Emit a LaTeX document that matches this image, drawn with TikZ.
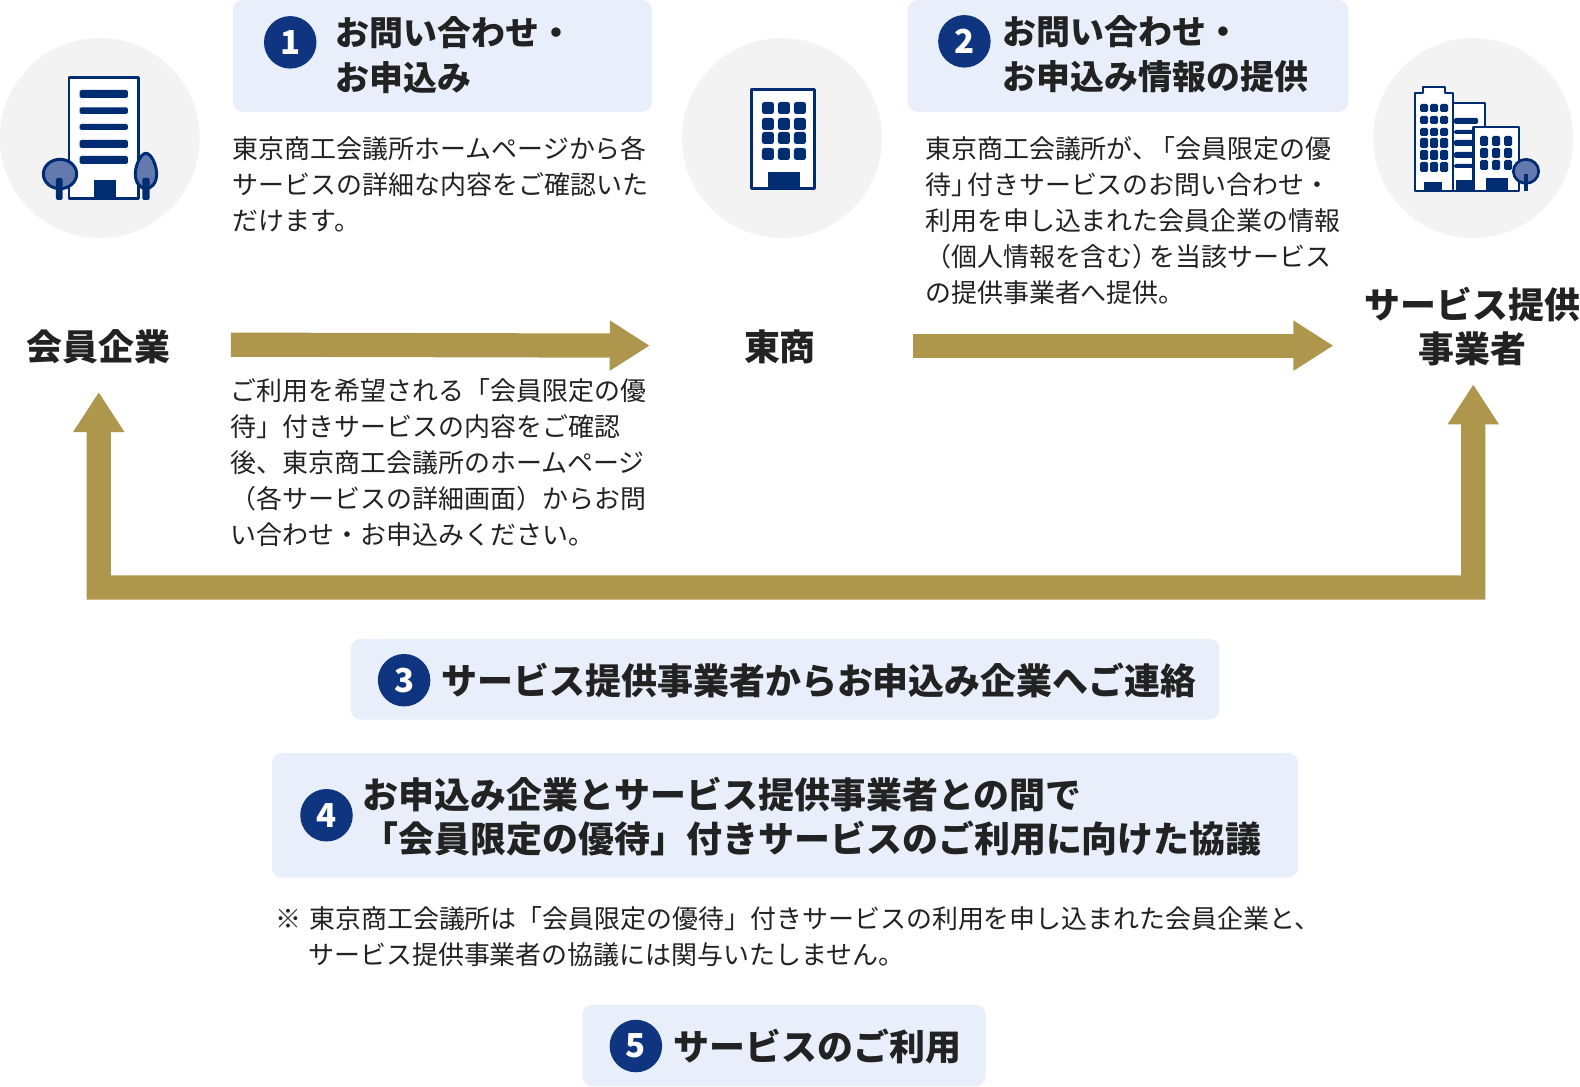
\documentclass[tikz,border=0pt]{standalone}
\usepackage{fontspec}
\usetikzlibrary{arrows.meta}
\setmainfont{Noto Sans CJK JP}
\definecolor{gold}{HTML}{AE974C}
\definecolor{navy}{HTML}{002D72}
\definecolor{leaf}{HTML}{6479AE}
\definecolor{pale}{HTML}{E9EFFA}
\definecolor{disc}{HTML}{F3F3F3}
\definecolor{ink}{HTML}{222222}
\definecolor{badgec}{HTML}{0F3480}
\tikzset{
 body/.style={anchor=north west,inner sep=0pt,align=left,text=ink,font=\fontsize{25.95}{36.1}\selectfont},
 titletext/.style={anchor=north west,inner sep=0pt,align=left,text=ink,font=\fontsize{33.9}{44.4}\selectfont\bfseries},
 bigtitle/.style={anchor=north west,inner sep=0pt,align=left,text=ink,font=\fontsize{35.95}{44.4}\selectfont\bfseries},
 actor/.style={anchor=center,inner sep=0pt,align=center,text=ink,font=\fontsize{35.9}{44.4}\selectfont\bfseries},
 panel/.style={fill=pale,rounded corners=10pt,draw=none},
 badge/.style={circle,fill=badgec,text=white,inner sep=0pt,minimum size=52.5pt,font=\fontsize{33}{33}\selectfont\bfseries},
 disk/.style={circle,fill=disc,inner sep=0pt,minimum size=200pt},
 bigarrow/.style={draw=gold,line width=24.2pt,-{Triangle[length=40pt,width=47.5pt]}},
 bothways/.style={draw=gold,line width=24.2pt,miter limit=10,{Triangle[length=40pt,width=48.5pt]}-{Triangle[length=40pt,width=48.5pt]}},
 icoline/.style={draw=navy,fill=white,line join=round},
 icofill/.style={fill=navy,rounded corners=1.5pt},
 tree/.style={draw=navy,fill=leaf},
}
\begin{document}
\begin{tikzpicture}[x=1.0077pt,y=-1.0077pt]
\useasboundingbox (0,0) rectangle (1567.9,1077.7);
\fill[white] (0,0) rectangle (1567.9,1077.7);
% discs
\node[disk] (d1) at (99,137) {};
\node[disk] (d2) at (776,137) {};
\node[disk] (d3) at (1462,137) {};
% icon 1
\begin{scope}[shift={(0,29.77)},x=0.3333pt,y=-0.3333pt]
\draw[icoline,line width=2.7pt] (207,142) rectangle (416,506);
\foreach \ya/\yb in {180/204,232/252,282/300,330/354,378/402}
 \fill[icofill] (239,\ya) rectangle (384,\yb);
\fill[navy] (282,450) rectangle (348,508);
\draw[tree,line width=3pt] (180,432) ellipse [x radius=50,y radius=44];
\fill[navy,rounded corners=2pt] (168,444) rectangle (188,510);
\draw[tree,line width=3pt] (438,370) .. controls (454,370) and (470,406) .. (470,432) .. controls (470,462) and (452,476) .. (438,476) .. controls (424,476) and (406,462) .. (406,432) .. controls (406,406) and (422,370) .. (438,370) -- cycle;
\fill[navy,rounded corners=2pt] (427,444) rectangle (449,510);
\end{scope}
% icon 2
\begin{scope}[shift={(669.8,29.77)},x=0.3333pt,y=-0.3333pt]
\draw[icoline,line width=2.7pt] (229,178) rectangle (419,476);
\foreach \cx in {261,309,357}
 \foreach \cy in {216,264,306,354}
  \fill[navy,rounded corners=2.5pt] (\cx,\cy) rectangle ++(36,36);
\fill[navy] (279,426) rectangle (375,476);
\end{scope}
% icon 3
\begin{scope}[shift={(1349.6,29.77)},x=0.3333pt,y=-0.3333pt]
\draw[icoline,line width=2pt] (188,188) -- (188,170) -- (256,170) -- (256,188) -- (279,188) -- (279,484) -- (165,484) -- (165,188) -- cycle;
\foreach \cx in {180,210,240}
 \foreach \ya/\yb in {222/246,258/282,294/318,324/354,360/390,396/426}
  \fill[icofill] (\cx,\ya) rectangle ++(24,\yb-\ya);
\fill[navy] (192,456) rectangle (246,484);
\draw[icoline,line width=2pt] (279,218) rectangle (375,484);
\foreach \ya/\yb in {264/282,300/312,330/348,366/384,402/414}
 \fill[icofill] (282,\ya) rectangle (354,\yb);
\fill[navy] (288,450) rectangle (340,484);
\draw[icoline,line width=2.3pt] (340,291) rectangle (476,484);
\foreach \cx in {360,396,432}
 \foreach \ya in {318,354,390}
  \fill[icofill] (\cx,\ya) rectangle ++(24,30);
\fill[navy] (378,444) rectangle (444,484);
\draw[tree,line width=2.7pt] (498,424) ellipse [x radius=38,y radius=36];
\fill[navy] (492,432) rectangle (504,484);
\end{scope}
% panels
\fill[panel] (231,0) rectangle (647,111);
\fill[panel] (901,0) rectangle (1338,111);
\fill[panel] (348,634) rectangle (1210,714);
\fill[panel] (270,747) rectangle (1288,871);
\fill[panel] (578,997) rectangle (978,1078);
% badges
\node[badge] (b1) at (288,42) {1};
\node[badge] (b2) at (957,41) {2};
\node[badge] (b3) at (401,675) {3};
\node[badge] (b4) at (324,809) {4};
\node[badge] (b5) at (631,1038) {5};
% titles
\node[titletext] (t1) at (333,16.5) {お問い合わせ・\\お申込み};
\node[titletext] (t2) at (995,15.5) {お問い合わせ・\\お申込み情報の提供};
\node[bigtitle] (t3) at (438,658) {サービス提供事業者からお申込み企業へご連絡};
\node[bigtitle] (t4) at (360,771) {お申込み企業とサービス提供事業者との間で\\「会員限定の優待」付きサービスのご利用に向けた協議};
\node[bigtitle] (t5) at (668,1020.5) {サービスのご利用};
% body
\node[body] (p1) at (231,135) {東京商工会議所ホームページから各\\サービスの詳細な内容をご確認いた\\だけます。};
\node[body] (p2) at (229,375.5) {ご利用を希望される「会員限定の優\\待」付きサービスの内容をご確認\\後、東京商工会議所のホームページ\\（各サービスの詳細画面）からお問\\い合わせ・お申込みください。};
\node[body] (p3) at (918,135) {東京商工会議所が、\hspace{-9pt}「会員限定の優\\待」\hspace{-10pt}付きサービスのお問い合わせ・\\利用を申し込まれた会員企業の情報\\（個人情報を含む）\hspace{-9pt}を当該サービス\\の提供事業者へ提供。};
\node[body] (p4) at (273,899) {※\hspace{8pt}東京商工会議所は「会員限定の優待」付きサービスの利用を申し込まれた会員企業と、\\\hspace*{33pt}サービス提供事業者の協議には関与いたしません。};
% actors
\node[actor] (a) at (97.5,344) {会員企業};
\node[actor] (b) at (774,344.5) {東商};
\node[actor] (c) at (1461,324) {サービス提供\\事業者};
% connectors
\draw[bigarrow] ([xshift=60.7pt,yshift=2pt]a.east) -- ([xshift=-94.1pt,yshift=1.5pt]b.west);
\draw[bigarrow] ([xshift=96.7pt,yshift=1.5pt]b.east) -- ([xshift=-31pt,yshift=1.5pt]c.west |- b.east);
\draw[bothways] ([xshift=0.5pt,yshift=-28pt]a.south) -- (98,583) -- (1462,583) -- ([xshift=1pt,yshift=-18pt]c.south);
\end{tikzpicture}
\end{document}
